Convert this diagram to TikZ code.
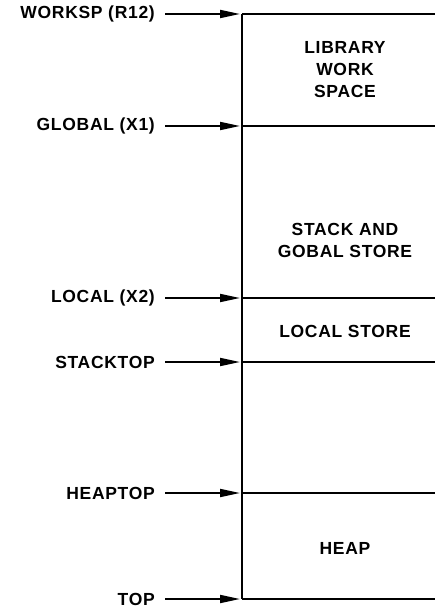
\documentclass[tikz,border=0pt]{standalone}
\usepackage{fontspec}
\setmainfont{Liberation Sans}[LetterSpace=4]
\usetikzlibrary{arrows.meta}
\begin{document}
\begin{tikzpicture}[x=1pt,y=-1pt,
  ptr/.style={font=\bfseries\fontsize{17.5}{20}\selectfont, anchor=east, inner sep=0pt},
  region/.style={font=\bfseries\fontsize{17.5}{22}\selectfont, align=center, inner sep=0pt},
  edge/.style={line width=2.4pt},
  arr/.style={line width=1.8pt, -{Triangle[length=20pt,width=8pt]}}]
\useasboundingbox (0,0) rectangle (435,609);
% memory column: left wall and partition lines
\coordinate (wtop) at (242,14);
\coordinate (wbot) at (242,599);
\draw[edge] (wtop) -- (wbot);
\foreach \n/\y in {ws/14, gl/126, lc/298, st/362, hp/493, tp/599}{
  \coordinate (\n) at (240,\y);
  \coordinate (\n r) at (435,\y);
  \draw[edge] (242,\y) -- (\n r);
}
% pointer labels
\node[ptr] (lws) at (155,14) {WORKSP (R12)};
\node[ptr] (lgl) at (155,126) {GLOBAL (X1)};
\node[ptr] (llc) at (155,298) {LOCAL (X2)};
\node[ptr] (lst) at (155,362) {STACKTOP};
\node[ptr] (lhp) at (155,493) {HEAPTOP};
\node[ptr] (ltp) at (155,599) {TOP};
\foreach \a/\b in {lws/ws, lgl/gl, llc/lc, lst/st, lhp/hp, ltp/tp}
  \draw[arr] ([xshift=10pt]\a.east) -- (\b);
% region names
\node[region] (r1) at (345,70) {LIBRARY\\WORK\\SPACE};
\node[region] (r2) at (345,240) {STACK AND\\GOBAL STORE};
\node[region] (r3) at (345,331) {LOCAL STORE};
\node[region] (r4) at (345,548) {HEAP};
\end{tikzpicture}
\end{document}
